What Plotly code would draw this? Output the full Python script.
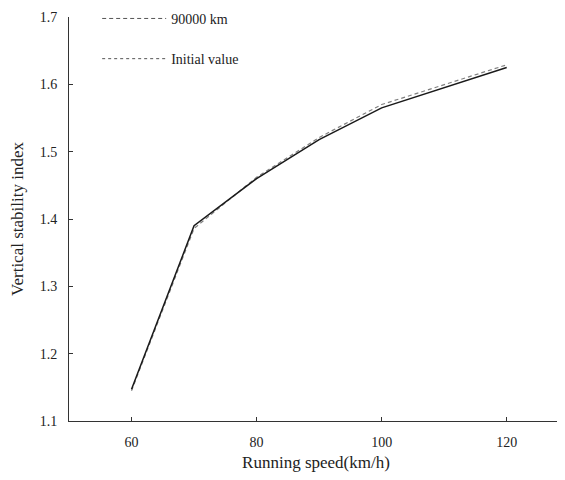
import plotly.graph_objects as go

speed = [60, 70, 80, 90, 100, 120]
km90000 = [1.145, 1.386, 1.462, 1.521, 1.570, 1.629]
initial = [1.147, 1.390, 1.460, 1.518, 1.565, 1.625]
x_ticks = [60, 80, 100, 120]
y_ticks = [1.1, 1.2, 1.3, 1.4, 1.5, 1.6, 1.7]

FONT = "Liberation Serif"

fig = go.Figure()
fig.add_trace(go.Scatter(x=speed, y=km90000, mode="lines", showlegend=False,
                         line=dict(color="#808080", width=1.2, dash="4px,3px")))
fig.add_trace(go.Scatter(x=speed, y=initial, mode="lines", showlegend=False,
                         line=dict(color="#1a1a1a", width=1.5)))
# legend entries
fig.add_trace(go.Scatter(x=[None], y=[None], mode="lines", name="90000 km", legendgroup="a",
                         line=dict(color="#555555", width=1, dash="4px,3px")))
fig.add_trace(go.Scatter(x=[None], y=[None], mode="lines", name="Initial value", legendgroup="b",
                         line=dict(color="#555555", width=1, dash="dot")))

fig.update_layout(
    width=557, height=464,
    margin=dict(l=61, r=2, t=9, b=51, autoexpand=False),
    plot_bgcolor="white", paper_bgcolor="white",
    font=dict(family=FONT, size=14, color="#222222"),
    showlegend=True,
    legend=dict(x=0.057, y=1.035, xanchor="left", yanchor="top",
                bgcolor="rgba(0,0,0,0)", itemwidth=64, tracegroupgap=19,
                font=dict(family=FONT, size=14)),
    xaxis=dict(range=[50, 129], tickvals=x_ticks, ticks="inside", ticklen=4,
               showline=True, linecolor="#333333", linewidth=1, showgrid=False,
               zeroline=False, tickcolor="#333333", automargin=False,
               ticklabelstandoff=8,
               title=dict(text="Running speed(km/h)", standoff=17)),
    yaxis=dict(range=[1.1, 1.7], tickvals=y_ticks, tickformat=".1f", ticks="inside", ticklen=4,
               showline=True, linecolor="#333333", linewidth=1, showgrid=False,
               zeroline=False, tickcolor="#333333", automargin=False,
               ticklabelstandoff=8,
               title=dict(text="Vertical stability index", standoff=11)),
)

fig.write_html("out.html")
